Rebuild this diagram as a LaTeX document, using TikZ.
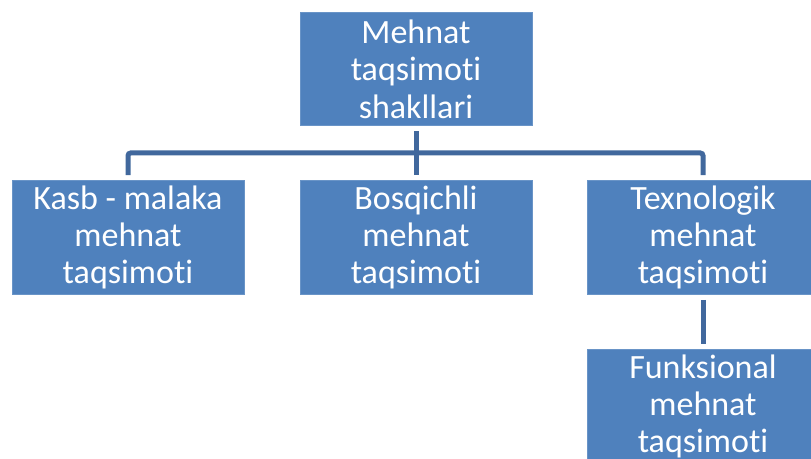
\documentclass[tikz,border=0pt]{standalone}
\usepackage{fontspec}
\setmainfont{Carlito}[Ligatures={NoCommon}]
\definecolor{boxblue}{HTML}{4F81BD}
\definecolor{linkblue}{HTML}{41689D}

\begin{document}
\begin{tikzpicture}[x=.75pt, y=-.75pt,
	box/.style={rectangle, fill=boxblue, draw=boxblue!85!white, line width=.5pt,
		minimum width=174pt, minimum height=85pt, inner sep=0pt,
		text=white, align=center, font=\fontsize{25.5}{28}\selectfont},
	link/.style={draw=linkblue, line width=3.75pt, rounded corners=2pt,
		shorten <=4pt, shorten >=4pt}]
	\useasboundingbox (0,0) rectangle (811,459);

	\node[box] (turi) at (416,69) {Mehnat\\taqsimoti\\shakllari};
	\node[box] (kasb) at (128,237.5) {Kasb - malaka\\mehnat\\taqsimoti};
	\node[box] (bosq) at (416,237.5) {Bosqichli\\mehnat\\taqsimoti};
	\node[box] (texn) at (703,237.5) {Texnologik\\mehnat\\taqsimoti};
	\node[box] (funk) at (703,406.5) {Funksional\\mehnat\\taqsimoti};
	\coordinate (bar) at (416,153);

	\draw[link] (turi.south) -- (bosq.north);
	\draw[link] (kasb.north) |- (bar) -| (texn.north);
	\draw[link] (texn.south) -- (funk.north);
\end{tikzpicture}
\end{document}
